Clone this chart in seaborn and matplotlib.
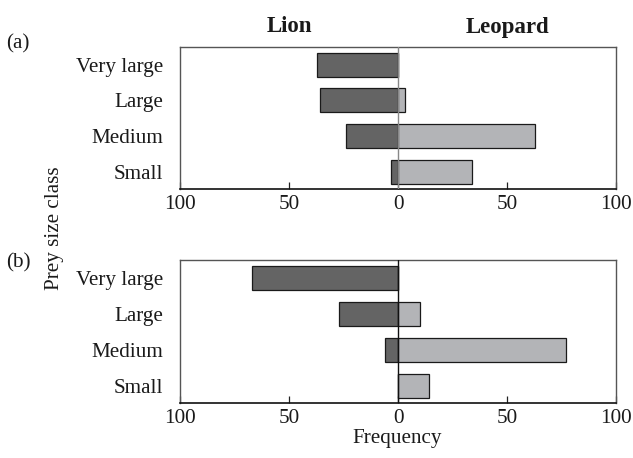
import matplotlib
matplotlib.use("Agg")
import matplotlib.pyplot as plt
import seaborn as sns
import pandas as pd

categories = ["Very large", "Large", "Medium", "Small"]
lion_a = [37, 36, 24, 3]
leopard_a = [0, 3, 63, 34]
lion_b = [67, 27, 6, 0]
leopard_b = [0, 10, 77, 14]
tick_values = [-100, -50, 0, 50, 100]
tick_labels = ["100", "50", "0", "50", "100"]

sns.set_theme(style="white")
plt.rcParams["font.family"] = ["Liberation Serif", "DejaVu Serif"]

LION_C = "#646464"
LEOP_C = "#b3b4b7"
FS = 15.2

fig = plt.figure(figsize=(6.33, 4.58), dpi=100)
ax_a = fig.add_axes([180/633, 1-189.3/458, 436/633, 142.6/458])
ax_b = fig.add_axes([180/633, 1-403.3/458, 436/633, 143.3/458])


def draw(ax, lion, leop, zero_color):
    df = pd.DataFrame({
        "cat": categories * 2,
        "value": [-v for v in lion] + list(leop),
        "species": ["Lion"] * 4 + ["Leopard"] * 4,
    })
    sns.barplot(data=df, y="cat", x="value", hue="species", orient="h",
                dodge=False, width=0.67, palette={"Lion": LION_C, "Leopard": LEOP_C},
                edgecolor="#1a1a1a", linewidth=0.9, order=categories, ax=ax,
                legend=False)
    ax.set_xlim(-100, 100)
    ax.set_ylim(3.48, -0.5)
    ax.axvline(0, color=zero_color, lw=1.0, zorder=5)
    ax.set_xticks(tick_values)
    ax.set_xticklabels(tick_labels)
    ax.set_xlabel("")
    ax.set_ylabel("")
    ax.tick_params(axis="x", direction="in", length=5, width=0.9, color="#222222",
                   labelsize=FS, pad=4, bottom=True)
    ax.tick_params(axis="y", length=0, labelsize=FS, pad=12)
    for s in ["top", "left", "right"]:
        ax.spines[s].set_color("#555555")
        ax.spines[s].set_linewidth(1.0)
    ax.spines["bottom"].set_color("#111111")
    ax.spines["bottom"].set_linewidth(1.2)
    for t in ax.get_yticklabels() + ax.get_xticklabels():
        t.set_color("#1a1a1a")


draw(ax_a, lion_a, leopard_a, "#888888")
draw(ax_b, lion_b, leopard_b, "#111111")

fig.text(289/633, 1-27/458, "Lion", ha="center", va="center", fontsize=16.5,
         fontweight="bold", color="#1a1a1a")
fig.text(507/633, 1-27/458, "Leopard", ha="center", va="center", fontsize=16.5,
         fontweight="bold", color="#1a1a1a")
fig.text(18/633, 1-44/458, "(a)", ha="center", va="center", fontsize=FS, color="#1a1a1a")
fig.text(18/633, 1-263/458, "(b)", ha="center", va="center", fontsize=FS, color="#1a1a1a")
fig.text(54/633, 1-228/458, "Prey size class", ha="center", va="center", rotation=90,
         fontsize=FS, color="#1a1a1a")
fig.text(397/633, 1-439/458, "Frequency", ha="center", va="center", fontsize=FS,
         color="#1a1a1a")

fig.savefig("out.png", dpi=100, facecolor="white")
